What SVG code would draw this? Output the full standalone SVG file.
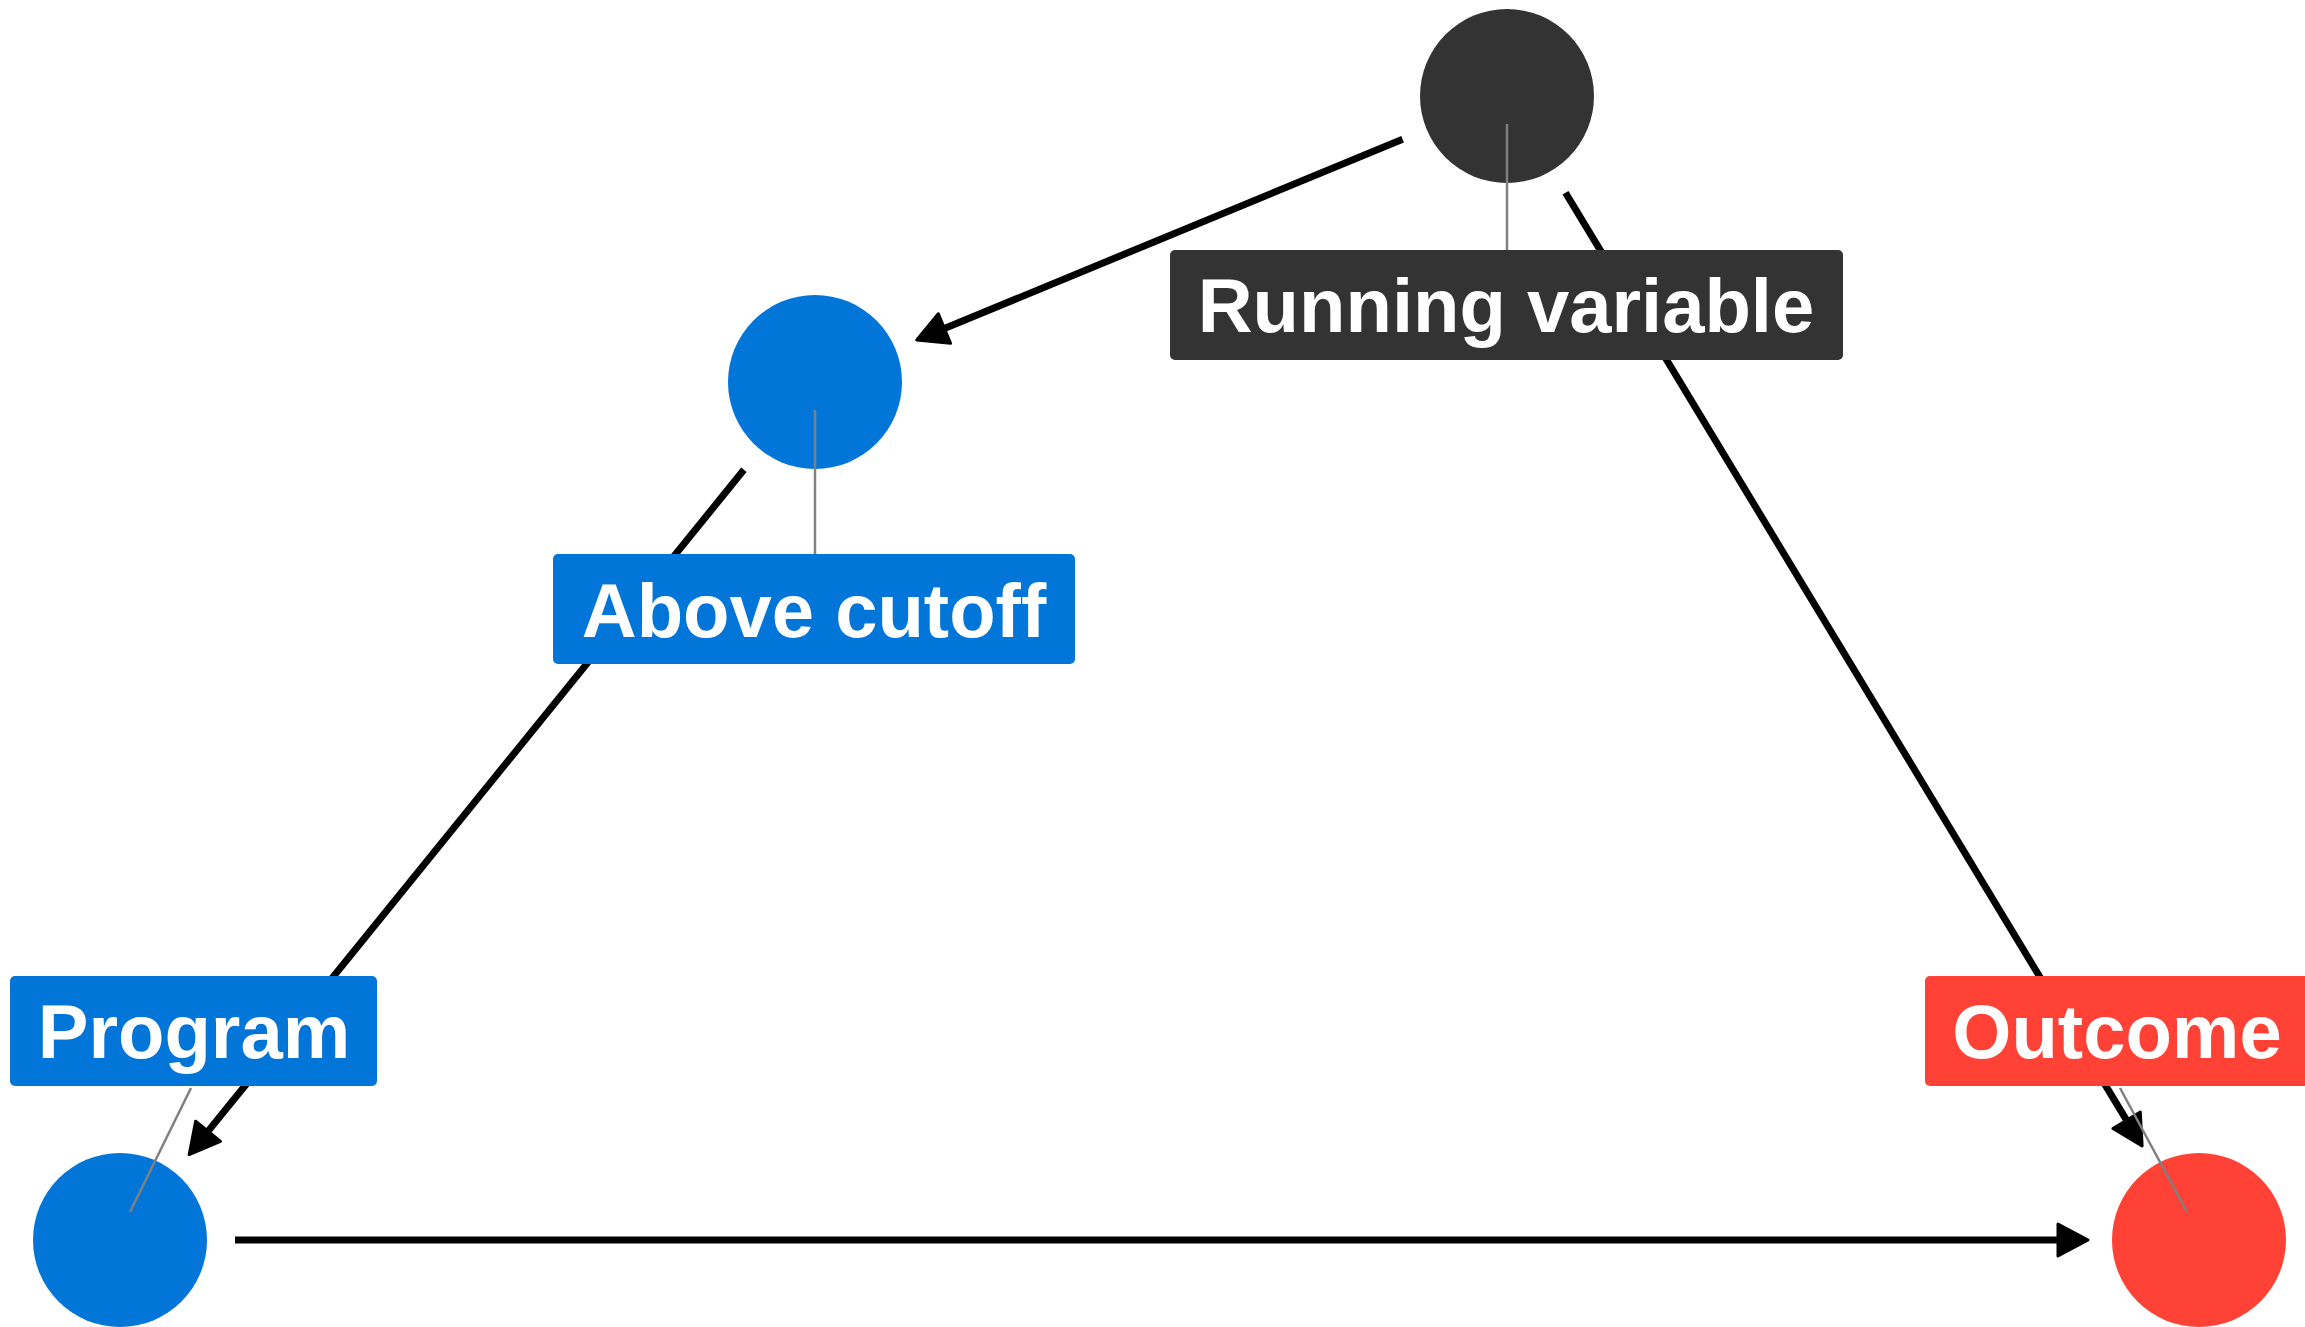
<svg xmlns="http://www.w3.org/2000/svg" width="2305" height="1327" viewBox="0 0 2305 1327">
<defs>
<style>
.edge{fill:none;stroke:#000;stroke-width:7;marker-end:url(#arr)}
.seg{stroke:#808080;stroke-width:2.5;fill:none}
.lbl{font-family:"Liberation Sans",Arial,sans-serif;font-weight:bold;font-size:76px;fill:#fff;text-anchor:middle}
</style>
<marker id="arr" markerUnits="userSpaceOnUse" viewBox="0 0 37 38" markerWidth="37" markerHeight="38" refX="9" refY="19" orient="auto" overflow="visible">
<path d="M3,3 L33,19 L3,35 Z" fill="#000" stroke="#000" stroke-width="3" stroke-linejoin="round"/>
</marker>
</defs>
<rect width="2305" height="1327" fill="#fff"/>
<g id="edges">
<path class="edge" d="M1402.6,139.2 L938.9,330.8"/>
<path class="edge" d="M1565.5,192.7 L2129.7,1125.4"/>
<path class="edge" d="M743.9,469.8 L204.3,1135.9"/>
<path class="edge" d="M235,1240 L2064,1240"/>
</g>
<g id="node-running">
<circle cx="1507" cy="96" r="87" fill="#333333"/>
<line class="seg" x1="1507" y1="124" x2="1507" y2="250"/>
<rect x="1170" y="250" width="673" height="110" rx="5" fill="#333333"/>
<text class="lbl" x="1506" y="332">Running variable</text>
</g>
<g id="node-above">
<circle cx="815" cy="382" r="87" fill="#0275D8"/>
<line class="seg" x1="815" y1="410" x2="815" y2="554"/>
<rect x="553" y="554" width="522" height="110" rx="5" fill="#0275D8"/>
<text class="lbl" x="814" y="637">Above cutoff</text>
</g>
<g id="node-program">
<circle cx="120" cy="1240" r="87" fill="#0275D8"/>
<line class="seg" x1="191" y1="1088" x2="130" y2="1212"/>
<rect x="10" y="976" width="367" height="110" rx="5" fill="#0275D8"/>
<text class="lbl" x="194" y="1058">Program</text>
</g>
<g id="node-outcome">
<circle cx="2199" cy="1240" r="87" fill="#FF4136"/>
<line class="seg" x1="2120" y1="1088" x2="2187" y2="1212"/>
<rect x="1925" y="976" width="384" height="110" rx="5" fill="#FF4136"/>
<text class="lbl" x="2117" y="1058">Outcome</text>
</g>
</svg>
